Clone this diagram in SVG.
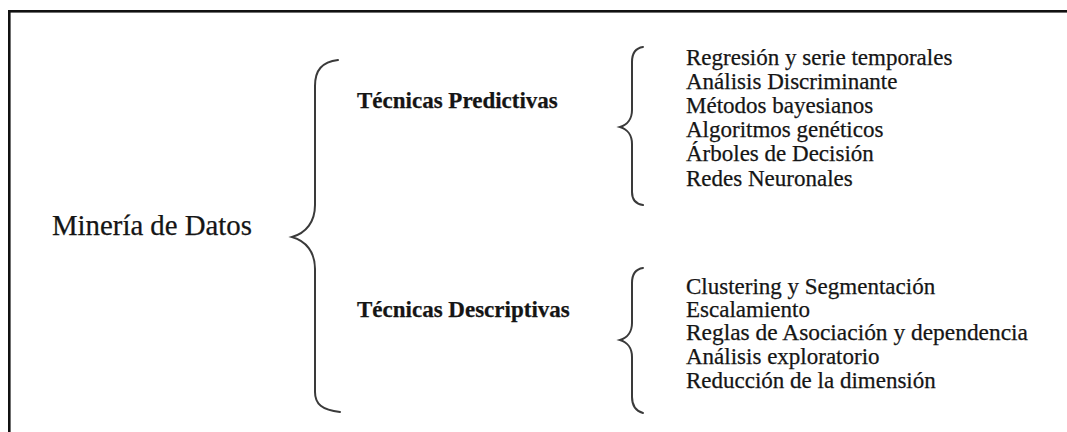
<svg xmlns="http://www.w3.org/2000/svg" width="1067" height="432" viewBox="0 0 1067 432">
  <style>
    .frame { fill: none; stroke: #111; stroke-width: 2.6; }
    .brace { fill: none; stroke: #3a3a3a; stroke-width: 2; stroke-linecap: round; }
    text { font-family: "Liberation Serif", "Times New Roman", serif; fill: #151515; stroke: #151515; stroke-width: 0.25; }
    .root { font-size: 28.8px; }
    .head { font-size: 23px; font-weight: bold; }
    .item { font-size: 23px; }
  </style>

  <!-- outer frame, running off the right and bottom edges -->
  <rect class="frame" x="9.3" y="11.3" width="1080" height="440"/>

  <g id="connectors">
    <!-- large brace: Minería de Datos -> two technique groups -->
    <path class="brace" d="M338,60 C322,62 315,70 315,86 L315,205 C315,222 306,233 292,237 C306,241 315,252 315,269 L315,392 C315,404 322,410 340,412"/>
    <!-- brace for predictive techniques -->
    <path class="brace" d="M643,47 C636,48 632,53 632,62 L632,110 C632,119 627,125 620,127 C627,129 632,135 632,144 L632,192 C632,200 636,204 643,205"/>
    <!-- brace for descriptive techniques -->
    <path class="brace" d="M643,268 C636,269 632,274 632,283 L632,323 C632,332 627,338 620,340 C627,342 632,348 632,357 L632,397 C632,406 636,411 643,413"/>
  </g>

  <g id="node-mineria">
    <text class="root" x="52" y="235">Minería de Datos</text>
  </g>

  <g id="node-predictivas">
    <text class="head" x="357" y="108">Técnicas Predictivas</text>
  </g>

  <g id="node-descriptivas">
    <text class="head" x="357" y="317">Técnicas Descriptivas</text>
  </g>

  <g id="node-predictivas-list">
    <text class="item" x="686" y="65">Regresión y serie temporales</text>
    <text class="item" x="686" y="89">Análisis Discriminante</text>
    <text class="item" x="686" y="113">Métodos bayesianos</text>
    <text class="item" x="686" y="137">Algoritmos genéticos</text>
    <text class="item" x="686" y="161">Árboles de Decisión</text>
    <text class="item" x="686" y="186">Redes Neuronales</text>
  </g>

  <g id="node-descriptivas-list">
    <text class="item" x="686" y="294">Clustering y Segmentación</text>
    <text class="item" x="686" y="317">Escalamiento</text>
    <text class="item" x="686" y="340" textLength="342" lengthAdjust="spacingAndGlyphs">Reglas de Asociación y dependencia</text>
    <text class="item" x="686" y="364">Análisis exploratorio</text>
    <text class="item" x="686" y="388">Reducción de la dimensión</text>
  </g>
</svg>
